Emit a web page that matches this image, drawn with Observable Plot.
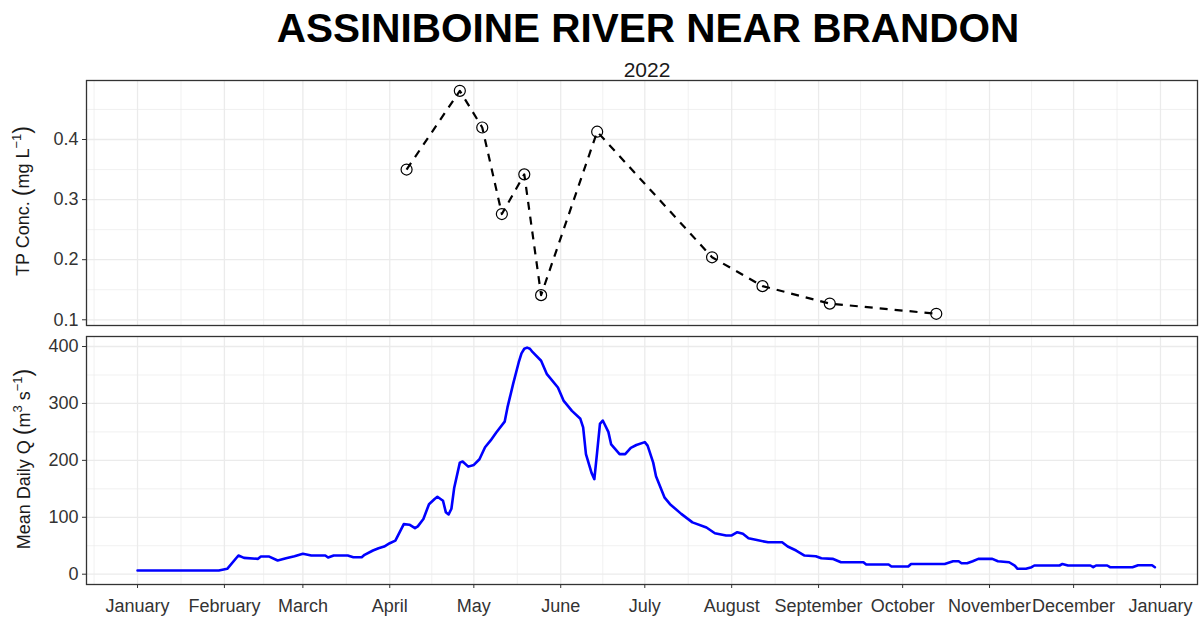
<!DOCTYPE html>
<html><head><meta charset="utf-8">
<script src="https://cdn.jsdelivr.net/npm/d3@7"></script>
<script src="https://cdn.jsdelivr.net/npm/@observablehq/plot@0.6"></script>
<style>
body{margin:0;background:#fff;}
#wrap{position:relative;width:1199px;height:617px;overflow:hidden;font-family:"Liberation Sans",Arial,sans-serif;background:#fff;}
#wrap > svg{position:absolute;left:0;}
</style></head><body><div id="wrap"></div>
<script>
// ---- data ----
const tpDates = ["2022-04-07","2022-04-26","2022-05-04","2022-05-11","2022-05-19","2022-05-25","2022-06-14","2022-07-25","2022-08-12","2022-09-05","2022-10-13"];
const tpValues = [0.350,0.481,0.420,0.276,0.342,0.141,0.413,0.204,0.156,0.127,0.110];

const qDates = ["2022-01-01","2022-01-30","2022-02-02","2022-02-06","2022-02-08","2022-02-13","2022-02-14","2022-02-17","2022-02-20","2022-02-23","2022-02-26","2022-03-01","2022-03-04","2022-03-09","2022-03-10","2022-03-12","2022-03-17","2022-03-19","2022-03-22","2022-03-23","2022-03-26","2022-03-28","2022-03-30","2022-04-01","2022-04-03","2022-04-06","2022-04-08","2022-04-10","2022-04-11","2022-04-13","2022-04-15","2022-04-17","2022-04-18","2022-04-20","2022-04-21","2022-04-22","2022-04-23","2022-04-24","2022-04-26","2022-04-27","2022-04-29","2022-05-01","2022-05-03","2022-05-05","2022-05-07","2022-05-09","2022-05-12","2022-05-13","2022-05-15","2022-05-17","2022-05-18","2022-05-19","2022-05-20","2022-05-21","2022-05-22","2022-05-25","2022-05-27","2022-05-31","2022-06-02","2022-06-05","2022-06-08","2022-06-09","2022-06-10","2022-06-12","2022-06-13","2022-06-14","2022-06-15","2022-06-16","2022-06-18","2022-06-19","2022-06-22","2022-06-24","2022-06-26","2022-06-28","2022-07-01","2022-07-02","2022-07-04","2022-07-05","2022-07-08","2022-07-10","2022-07-14","2022-07-18","2022-07-23","2022-07-26","2022-07-30","2022-08-01","2022-08-03","2022-08-05","2022-08-07","2022-08-10","2022-08-14","2022-08-19","2022-08-21","2022-08-24","2022-08-27","2022-08-31","2022-09-02","2022-09-06","2022-09-09","2022-09-17","2022-09-18","2022-09-26","2022-09-27","2022-10-03","2022-10-04","2022-10-16","2022-10-19","2022-10-21","2022-10-22","2022-10-24","2022-10-26","2022-10-28","2022-11-02","2022-11-04","2022-11-08","2022-11-10","2022-11-11","2022-11-14","2022-11-16","2022-11-17","2022-11-26","2022-11-27","2022-11-29","2022-12-07","2022-12-08","2022-12-09","2022-12-13","2022-12-14","2022-12-22","2022-12-24","2022-12-29","2022-12-30"];
const qValues = [6.5,6.5,9.5,32.8,28.7,27,31,31,24,28,31.6,35.8,32.8,32.8,29.3,32.8,32.8,29.8,29.8,34,41.6,45.6,48.6,54.4,59,88,87,81,84,97,123,132,136,129,109,105,115,152,196,198,189,192,202,223,235,249,268,293,334,372,388,396,398,396,390,375,352,328,305,287,273,258,211,178,167,215,264,270,250,228,211,211,222,227,232,226,196,172,135,123,106,91,82,72,68,68,73.7,71,63,60,56,56,48.6,41.6,32.8,31.6,28,27,21,21,17,17,13.5,13.5,18,18,22.8,22.8,19.3,19.3,22.8,27,27,22.8,21,15,9.5,9.5,12.3,15.3,15.3,18,15.3,15.3,12.3,15.3,15.3,12.3,12.3,15.8,15.8,12.3];

const monthTickDates = ["2022-01-01","2022-02-01","2022-03-01","2022-04-01","2022-05-01","2022-06-01","2022-07-01","2022-08-01","2022-09-01","2022-10-01","2022-11-01","2022-12-01","2023-01-01"];
const monthTickLabels = ["January","February","March","April","May","June","July","August","September","October","November","December","January"];
const monthBoundsOutside = ["2021-12-01","2023-02-01"];
const tpTicks = [0.1,0.2,0.3,0.4];
const tpMinor = [0.15,0.25,0.35,0.45];
const qTicks = [0,100,200,300,400];
const qMinor = [50,150,250,350];

// ---- build ----
const parse = s => new Date(s + "T00:00:00Z");
const xDomain = [new Date(Date.UTC(2021,11,13,19)), new Date(Date.UTC(2023,0,14,5))];
const majorX = monthTickDates.map(parse);
const bounds = [parse(monthBoundsOutside[0]), ...majorX, parse(monthBoundsOutside[1])];
const minorX = d3.pairs(bounds).map(([a,b]) => new Date((+a + +b)/2)).filter(d => d >= xDomain[0] && d <= xDomain[1]);
const labelByTime = new Map(majorX.map((d,i) => [+d, monthTickLabels[i]]));

const tp = tpDates.map((d,i) => ({date: parse(d), value: tpValues[i]}));
const q = qDates.map((d,i) => ({date: parse(d), value: qValues[i]}));

const FONT = '"Liberation Sans", Arial, sans-serif';
const style = {fontFamily: FONT, fontSize: "18px", color: "#333", background: "transparent", overflow: "visible"};
const GRID = "#ebebeb";

const topPlot = Plot.plot({
  width: 1199, height: 255, marginLeft: 86, marginRight: 2, marginTop: 5, marginBottom: 5,
  style,
  x: {type: "utc", domain: xDomain, axis: null},
  y: {domain: [0.0905, 0.4982]},
  marks: [
    Plot.ruleX(minorX, {stroke: GRID, strokeWidth: 0.7}),
    Plot.ruleY(tpMinor, {stroke: GRID, strokeWidth: 0.7}),
    Plot.ruleX(majorX, {stroke: GRID, strokeWidth: 1.3}),
    Plot.ruleY(tpTicks, {stroke: GRID, strokeWidth: 1.3}),
    Plot.axisY({ticks: tpTicks, tickSize: 4, tickPadding: 4, label: null, tickFormat: d => d.toFixed(1), stroke: "#333", fill: "#333"}),
    Plot.line(tp, {x: "date", y: "value", stroke: "black", strokeWidth: 2.2, strokeDasharray: "8,7", strokeLinecap: "butt"}),
    Plot.dot(tp, {x: "date", y: "value", r: 5.5, stroke: "black", strokeWidth: 1.2, fill: "none"}),
    Plot.frame({stroke: "#333", strokeWidth: 1.3})
  ]
});
topPlot.style.top = "75px";

const botPlot = Plot.plot({
  width: 1199, height: 286, marginLeft: 86, marginRight: 2, marginTop: 5, marginBottom: 33,
  style,
  x: {type: "utc", domain: xDomain},
  y: {domain: [-18.1, 417.6]},
  marks: [
    Plot.ruleX(minorX, {stroke: GRID, strokeWidth: 0.7}),
    Plot.ruleY(qMinor, {stroke: GRID, strokeWidth: 0.7}),
    Plot.ruleX(majorX, {stroke: GRID, strokeWidth: 1.3}),
    Plot.ruleY(qTicks, {stroke: GRID, strokeWidth: 1.3}),
    Plot.axisY({ticks: qTicks, tickSize: 4, tickPadding: 4, label: null, tickFormat: d => String(d), stroke: "#333", fill: "#333"}),
    Plot.axisX({ticks: majorX, tickSize: 4, tickPadding: 11, label: null, tickFormat: d => labelByTime.get(+d), stroke: "#333", fill: "#333"}),
    Plot.line(q, {x: "date", y: "value", stroke: "#0000ff", strokeWidth: 2.6}),
    Plot.frame({stroke: "#333", strokeWidth: 1.3})
  ]
});
botPlot.style.top = "331px";

const wrap = document.getElementById("wrap");
wrap.append(topPlot, botPlot);

// ---- titles and axis titles ----
const ov = d3.select(wrap).append("svg")
  .attr("width", 1199).attr("height", 617)
  .style("top", "0px").style("pointer-events", "none")
  .attr("font-family", FONT);

ov.append("text").attr("x", 648).attr("y", 42).attr("text-anchor", "middle")
  .attr("font-size", 40.5).attr("font-weight", "bold").attr("fill", "#000")
  .text("ASSINIBOINE RIVER NEAR BRANDON");
ov.append("text").attr("x", 647).attr("y", 77).attr("text-anchor", "middle")
  .attr("font-size", 21).attr("fill", "#1a1a1a")
  .text("2022");

function yTitle(cx, cy, parts) {
  const t = ov.append("text").attr("transform", `translate(${cx},${cy}) rotate(-90)`)
    .attr("text-anchor", "middle").attr("font-size", 18).attr("fill", "#1a1a1a");
  for (const p of parts) {
    const s = t.append("tspan").text(p.text);
    if (p.size) s.attr("font-size", p.size);
    if (p.dy) s.attr("dy", p.dy);
  }
}
yTitle(29, 201, [
  {text: "TP Conc. "}, {text: "(", size: 23, dy: 1}, {text: "mg L", dy: -1},
  {text: "−1", size: 13, dy: -8}, {text: ")", size: 23, dy: 9}
]);
yTitle(30, 459, [
  {text: "Mean Daily Q "}, {text: "(", size: 23, dy: 1}, {text: "m", dy: -1},
  {text: "3", size: 13, dy: -8}, {text: " s", dy: 8}, {text: "−1", size: 13, dy: -8}, {text: ")", size: 23, dy: 9}
]);
</script>
</body></html>
